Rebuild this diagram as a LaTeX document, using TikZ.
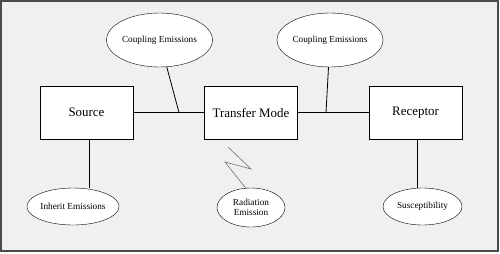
\documentclass[tikz,border=0pt]{standalone}
\usepackage{fontspec}
\setmainfont{Liberation Serif}
\usetikzlibrary{shapes.geometric, positioning}
\definecolor{panel}{HTML}{F0F0F0}
\definecolor{framegray}{HTML}{4A4A4A}
\definecolor{zapgray}{HTML}{707070}

\begin{document}
\begin{tikzpicture}[x=1bp, y=-1bp,
    block/.style={draw, fill=white, minimum width=93bp, minimum height=53bp,
        inner sep=0pt, font=\fontsize{13}{15}\selectfont},
    blob/.style={draw, fill=white, ellipse, inner sep=0pt, align=center,
        font=\fontsize{9.3}{10.5}\selectfont},
    link/.style={line width=0.8bp}]

    % Outer panel
    \useasboundingbox (0,0) rectangle (500,253);
    \draw[framegray, fill=panel, line width=1.5bp] (1,1) rectangle (498,251);

    % Main chain: source, transfer mode, receptor
    \node[block] (src) at (86.5,112.5) {Source};
    \node[block] (tm)  at (251,112.5)  {Transfer Mode};
    \node[block] (rcp) at (415.5,112.5) {Receptor};

    % Junctions on the horizontal links
    \coordinate (j1) at (179,112.5);
    \coordinate (j2) at (326,112.5);

    \draw[link] (src.east) -- (j1) -- (tm.west);
    \draw[link] (tm.east) -- (j2) -- (rcp.west);

    % Upper ellipses: coupling emissions
    \node[blob, minimum width=93bp, minimum height=54bp] (cpl1) at (159.5,40) {Coupling Emissions};
    \node[blob, minimum width=94bp, minimum height=54bp] (cpl2) at (330,40) {Coupling Emissions};
    \draw[link] (cpl1) -- (j1);
    \draw[link] (cpl2) -- (j2);

    % Lower ellipses
    \node[blob, minimum width=92bp, minimum height=37bp] (inh) at (73,206.5) {Inherit Emissions};
    \node[blob, minimum width=68bp, minimum height=39bp] (rad) at (251,207.5) {Radiation\\Emission};
    \node[blob, minimum width=79bp, minimum height=37bp] (sus) at (422.5,206.5) {Susceptibility};

    % Drops from the end boxes
    \coordinate (s1) at ([xshift=2.5bp]src.south);
    \coordinate (s2) at ([xshift=1.5bp]rcp.south);
    \draw[link] (s1) -- (s1 |- inh.north);
    \draw[link] (s2) -- (s2 |- sus.north);

    % Radiation zigzag
    \coordinate (z0) at (228,147);
    \coordinate (z1) at (251,169);
    \coordinate (z2) at (225,162);
    \coordinate (z3) at (246,188.5);
    \draw[zapgray, line width=0.6bp] (z0) -- (z1) -- (z2) -- (z3);

\end{tikzpicture}
\end{document}
